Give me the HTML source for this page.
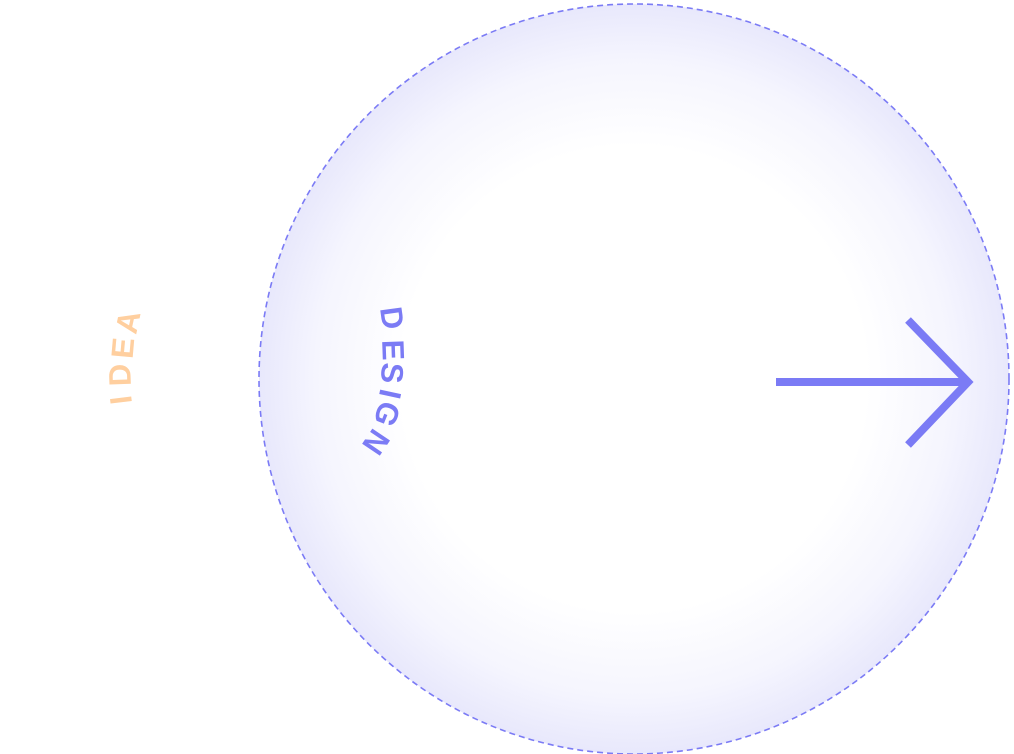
<!DOCTYPE html>
<html><head><meta charset="utf-8"><style>
html,body{margin:0;padding:0;background:#fff;width:1014px;height:754px;overflow:hidden}
svg{display:block}
text{font-family:"Liberation Sans",sans-serif;font-size:31px;font-weight:bold;text-anchor:middle;dominant-baseline:central}
</style></head><body>
<svg width="1014" height="754" viewBox="0 0 1014 754">
<defs>
<radialGradient id="g" cx="0.5" cy="0.5" r="0.5">
<stop offset="0" stop-color="#ffffff"/>
<stop offset="0.62" stop-color="#ffffff"/>
<stop offset="0.85" stop-color="#f5f5fe"/>
<stop offset="1" stop-color="#e8e8fc"/>
</radialGradient>
</defs>
<circle cx="634" cy="379" r="375" fill="url(#g)" stroke="#7b7bf5" stroke-width="1.6" stroke-dasharray="6 4"/>
<g fill="#ffcf9f">
<text transform="translate(121,400) rotate(-97)">I</text>
<text transform="translate(120,375) rotate(-92)">D</text>
<text transform="translate(123,348) rotate(-85)">E</text>
<text transform="translate(128,322) rotate(-78)">A</text>
</g>
<g fill="#7b7bf5">
<text transform="translate(392,318) rotate(82)">D</text>
<text transform="translate(393,350) rotate(88)">E</text>
<text transform="translate(392,373) rotate(94)">S</text>
<text transform="translate(390,394) rotate(102)">I</text>
<text transform="translate(387,414) rotate(112)">G</text>
<text transform="translate(376,442) rotate(124)">N</text>
</g>
<g stroke="#7b7bf5" stroke-width="8" fill="none">
<line x1="776" y1="382" x2="966" y2="382"/>
<polyline points="908,320 968,382 908,445"/>
</g>
</svg>
</body></html>
